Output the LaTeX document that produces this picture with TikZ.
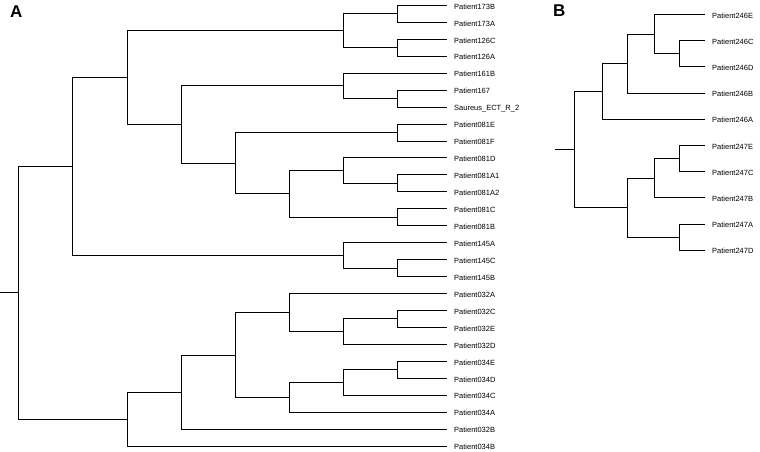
\documentclass[tikz,border=0pt]{standalone}
\usepackage{fontspec}
\setmainfont{Liberation Sans}
\usepackage{tikz}
\usetikzlibrary{calc}

\tikzset{
  branch/.style={line width=0.8pt, black},
  leaf/.style={anchor=base west, inner sep=0pt, xshift=7pt, yshift=-3.8pt,
    font=\fontsize{7.5}{8}\selectfont},
  panel/.style={anchor=base west, inner sep=0pt, font=\fontsize{17}{17}\selectfont\bfseries}
}

% nodo interno: nome, x, figlio 1, figlio 2
\newcommand{\clade}[4]{%
  \path let \p1 = ($(#3)!0.5!(#4)$) in (#2pt,\y1) coordinate (#1);
  \draw[branch] (#1) |- (#3) (#1) |- (#4);
}

\begin{document}
\begin{tikzpicture}[x=1pt, y=-1pt]
    \useasboundingbox (0,0) rectangle (760,451);

    % etichette dei pannelli
    \node[panel] (labA) at (10,17) {A};
    \node[panel] (labB) at (553,16.5) {B};

    % foglie A
    \foreach \nm/\lab [count=\i from 0] in {p173B/Patient173B, p173A/Patient173A,
        p126C/Patient126C, p126A/Patient126A, p161B/Patient161B, p167/Patient167,
        sau/Saureus\_ECT\_R\_2, p081E/Patient081E, p081F/Patient081F,
        p081D/Patient081D, p081A1/Patient081A1, p081A2/Patient081A2,
        p081C/Patient081C, p081B/Patient081B, p145A/Patient145A,
        p145C/Patient145C, p145B/Patient145B, p032A/Patient032A,
        p032C/Patient032C, p032E/Patient032E, p032D/Patient032D,
        p034E/Patient034E, p034D/Patient034D, p034C/Patient034C,
        p034A/Patient034A, p032B/Patient032B, p034B/Patient034B} {
      \coordinate (\nm) at (447,{5.3+16.95*\i});
      \node[leaf] (t\nm) at (\nm) {\lab};
    }

    % albero A
    \clade{n173}{397}{p173B}{p173A}
    \clade{n126}{397}{p126C}{p126A}
    \clade{n173x}{343}{n173}{n126}
    \clade{n167}{397}{p167}{sau}
    \clade{n161}{343}{p161B}{n167}
    \clade{n081EF}{397}{p081E}{p081F}
    \clade{n081A}{397}{p081A1}{p081A2}
    \clade{n081D}{343}{p081D}{n081A}
    \clade{n081CB}{397}{p081C}{p081B}
    \clade{n081x}{289}{n081D}{n081CB}
    \clade{n081}{235}{n081EF}{n081x}
    \clade{n161x}{181}{n161}{n081}
    \clade{nA1a}{127}{n173x}{n161x}
    \clade{n145CB}{397}{p145C}{p145B}
    \clade{n145}{343}{p145A}{n145CB}
    \clade{nA1}{72}{nA1a}{n145}
    \clade{n032CE}{397}{p032C}{p032E}
    \clade{n032x}{343}{n032CE}{p032D}
    \clade{n032}{289}{p032A}{n032x}
    \clade{n034ED}{397}{p034E}{p034D}
    \clade{n034x}{343}{n034ED}{p034C}
    \clade{n034}{289}{n034x}{p034A}
    \clade{nA2c}{235}{n032}{n034}
    \clade{nA2b}{181}{nA2c}{p032B}
    \clade{nA2}{127}{nA2b}{p034B}
    \clade{rootA}{18}{nA1}{nA2}
    \path (rootA) ++(-18,0) coordinate (stubA);
    \draw[branch] (stubA) -- (rootA);

    % foglie B
    \foreach \nm [count=\i from 0] in {246E, 246C, 246D, 246B, 246A,
        247E, 247C, 247B, 247A, 247D} {
      \coordinate (p\nm) at (705,{14.3+26.2*\i});
      \node[leaf] (tp\nm) at (p\nm) {Patient\nm};
    }

    % albero B
    \clade{n246CD}{679}{p246C}{p246D}
    \clade{n246E}{654}{p246E}{n246CD}
    \clade{n246B}{627}{n246E}{p246B}
    \clade{n246}{602}{n246B}{p246A}
    \clade{n247EC}{679}{p247E}{p247C}
    \clade{n247B}{654}{n247EC}{p247B}
    \clade{n247AD}{679}{p247A}{p247D}
    \clade{n247}{627}{n247B}{n247AD}
    \clade{rootB}{574}{n246}{n247}
    \path (rootB) ++(-19,0) coordinate (stubB);
    \draw[branch] (stubB) -- (rootB);
\end{tikzpicture}
\end{document}
